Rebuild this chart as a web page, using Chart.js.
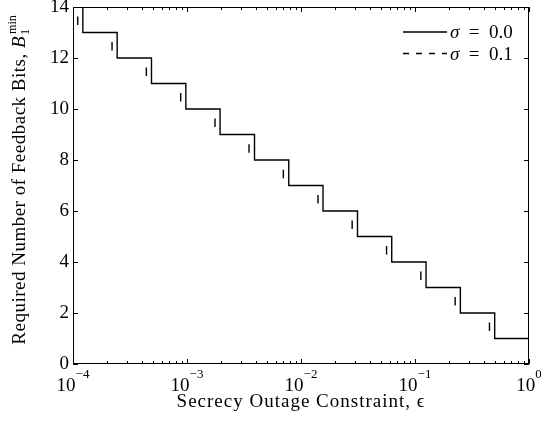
<!DOCTYPE html>
<html>
<head>
<meta charset="utf-8">
<script src="https://cdn.jsdelivr.net/npm/chart.js@4.4.1/dist/chart.umd.min.js"></script>
<style>
  html, body { margin: 0; padding: 0; background: #fff; }
</style>
</head>
<body>
<canvas id="bitsChart" width="541" height="421"></canvas>
<script>
// valores
const epsRange = [1e-4, 1];
const bitLevels = [14, 13, 12, 11, 10, 9, 8, 7, 6, 5, 4, 3, 2, 1];
const epsStepsSigma0 = [1.22e-4, 2.44e-4, 4.88e-4, 9.77e-4, 1.95e-3, 3.91e-3, 7.81e-3, 0.0156, 0.0313, 0.0625, 0.125, 0.25, 0.5];
const epsStepsSigma1 = [1.1e-4, 2.2e-4, 4.4e-4, 8.8e-4, 1.76e-3, 3.5e-3, 7.0e-3, 0.0141, 0.0281, 0.0563, 0.1125, 0.225, 0.45];
const xTickExponents = [-4, -3, -2, -1, 0];
const yTicks = [0, 2, 4, 6, 8, 10, 12, 14];
const seriesLabels = ['σ = 0.0', 'σ = 0.1'];
const xTitle = 'Secrecy Outage Constraint, ϵ';
const yTitle = 'Required Number of Feedback Bits, ';

const SERIF = '"Liberation Serif", "DejaVu Serif", serif';

// convierte los umbrales en puntos de una función escalón
function stepPoints(steps) {
    const pts = [{ x: epsRange[0], y: bitLevels[0] }];
    steps.forEach((e, i) => pts.push({ x: e, y: bitLevels[i + 1] }));
    pts.push({ x: epsRange[1], y: bitLevels[bitLevels.length - 1] });
    return pts;
}

// patrón de trazos: un solo trazo en medio de cada bajada
function dashGeometry(chart) {
    const xs = chart.scales.x, ys = chart.scales.y;
    if (!xs || !ys) return null;
    const h = xs.getPixelForValue(epsStepsSigma1[1]) - xs.getPixelForValue(epsStepsSigma1[0]);
    const v = ys.getPixelForValue(bitLevels[1]) - ys.getPixelForValue(bitLevels[0]);
    const lead = xs.getPixelForValue(epsStepsSigma1[0]) - xs.getPixelForValue(epsRange[0]);
    return { h, v, lead };
}

const framePlugin = {
    id: 'matlabFrame',
    afterDraw(chart) {
        const { ctx, chartArea: a } = chart;
        const xs = chart.scales.x, ys = chart.scales.y;
        ctx.save();
        ctx.strokeStyle = '#000';
        ctx.fillStyle = '#000';
        ctx.lineWidth = 1;
        ctx.strokeRect(a.left + 0.5, a.top + 0.5, a.right - a.left - 1, a.bottom - a.top - 1);

        // marcas hacia dentro
        ctx.beginPath();
        yTicks.forEach(v => {
            const py = Math.round(ys.getPixelForValue(v)) + 0.5;
            ctx.moveTo(a.left, py); ctx.lineTo(a.left + 5, py);
            ctx.moveTo(a.right, py); ctx.lineTo(a.right - 5, py);
        });
        xTickExponents.forEach((e, i) => {
            const px = Math.round(xs.getPixelForValue(Math.pow(10, e))) + 0.5;
            ctx.moveTo(px, a.bottom); ctx.lineTo(px, a.bottom - 5);
            ctx.moveTo(px, a.top); ctx.lineTo(px, a.top + 5);
            if (i < xTickExponents.length - 1) {
                for (let m = 2; m <= 9; m++) {
                    const mx = Math.round(xs.getPixelForValue(m * Math.pow(10, e))) + 0.5;
                    ctx.moveTo(mx, a.bottom); ctx.lineTo(mx, a.bottom - 3);
                    ctx.moveTo(mx, a.top); ctx.lineTo(mx, a.top + 3);
                }
            }
        });
        ctx.stroke();

        // etiquetas del eje x: 10 con exponente
        ctx.textBaseline = 'alphabetic';
        ctx.textAlign = 'left';
        xTickExponents.forEach(e => {
            const px = xs.getPixelForValue(Math.pow(10, e));
            const exp = e < 0 ? '\u2212' + Math.abs(e) : String(e);
            ctx.font = '19px ' + SERIF;
            const wb = ctx.measureText('10').width;
            ctx.font = '13px ' + SERIF;
            const we = ctx.measureText(exp).width;
            const x0 = px - (wb + we) / 2;
            ctx.font = '19px ' + SERIF;
            ctx.fillText('10', x0, a.bottom + 27);
            ctx.font = '13px ' + SERIF;
            ctx.fillText(exp, x0 + wb, a.bottom + 14);
        });

        // título del eje x
        ctx.font = '19px ' + SERIF;
        ctx.letterSpacing = '1px';
        ctx.textAlign = 'center';
        ctx.fillText(xTitle, (a.left + a.right) / 2, a.bottom + 43);

        // título del eje y con B_1^min
        ctx.save();
        ctx.translate(25, 180);
        ctx.rotate(-Math.PI / 2);
        ctx.textAlign = 'left';
        ctx.letterSpacing = '0.5px';
        ctx.font = '19px ' + SERIF;
        const wMain = ctx.measureText(yTitle).width;
        ctx.font = 'italic 19px ' + SERIF;
        const wB = ctx.measureText('B').width;
        ctx.letterSpacing = '0px';
        ctx.font = '12px ' + SERIF;
        const wSup = ctx.measureText('min').width;
        let x = -(wMain + wB + wSup + 2) / 2;
        ctx.letterSpacing = '0.5px';
        ctx.font = '19px ' + SERIF;
        ctx.fillText(yTitle, x, 0);
        x += wMain;
        ctx.font = 'italic 19px ' + SERIF;
        ctx.fillText('B', x, 0);
        x += wB + 1;
        ctx.letterSpacing = '0px';
        ctx.font = '12px ' + SERIF;
        ctx.fillText('1', x, 4);
        ctx.fillText('min', x + 1, -9);
        ctx.restore();
        ctx.letterSpacing = '0px';

        // leyenda
        chart.data.datasets.forEach((ds, i) => {
            const ly = a.top + 25 + i * 21.5;
            ctx.beginPath();
            ctx.lineWidth = 1.3;
            ctx.setLineDash(i === 0 ? [] : [6, 7]);
            ctx.moveTo(a.right - 126, ly);
            ctx.lineTo(a.right - 82, ly);
            ctx.stroke();
            ctx.setLineDash([]);
            const [sym, rest] = [ds.label.charAt(0), ds.label.slice(1)];
            ctx.textAlign = 'left';
            ctx.font = 'italic 19px ' + SERIF;
            ctx.fillText(sym, a.right - 79, ly + 6);
            const ws = ctx.measureText(sym).width;
            ctx.font = '19px ' + SERIF;
            ctx.fillText(rest.replace(' = ', '  =  '), a.right - 79 + ws, ly + 6);
        });
        ctx.restore();
    }
};

const ctx = document.getElementById('bitsChart').getContext('2d');
const chart = new Chart(ctx, {
    type: 'line',
    data: {
        datasets: [{
            label: seriesLabels[0],
            data: stepPoints(epsStepsSigma0),
            borderColor: '#000',
            borderWidth: 1.4,
            stepped: true,
            pointRadius: 0,
            fill: false
        }, {
            label: seriesLabels[1],
            data: stepPoints(epsStepsSigma1),
            borderColor: '#000',
            borderWidth: 1.4,
            stepped: true,
            pointRadius: 0,
            fill: false,
            borderDash: (c) => {
                const g = dashGeometry(c.chart);
                if (!g) return [6, 7];
                return [g.v / 3, g.h + g.v - g.v / 3];
            },
            borderDashOffset: (c) => {
                const g = dashGeometry(c.chart);
                if (!g) return 0;
                const period = g.h + g.v;
                const start = g.lead + g.v / 3 + 1;
                return period - (start % period);
            }
        }]
    },
    options: {
        responsive: false,
        animation: false,
        devicePixelRatio: 1,
        layout: { padding: { top: 7, right: 12, left: 0, bottom: 0 } },
        plugins: { legend: { display: false }, tooltip: { enabled: false } },
        scales: {
            x: {
                type: 'logarithmic',
                min: epsRange[0],
                max: epsRange[1],
                grid: { display: false, drawTicks: false },
                border: { display: false },
                ticks: { display: false },
                afterBuildTicks: (s) => { s.ticks = xTickExponents.map(e => ({ value: Math.pow(10, e) })); },
                afterFit: (s) => { s.height = 57; s.paddingLeft = 0; s.paddingRight = 0; }
            },
            y: {
                type: 'linear',
                min: 0,
                max: 14,
                grid: { display: false, drawTicks: false },
                border: { display: false },
                ticks: {
                    stepSize: 2,
                    color: '#000',
                    padding: 4,
                    font: { family: SERIF, size: 19 }
                },
                afterFit: (s) => { s.width = 73; s.paddingTop = 0; s.paddingBottom = 0; }
            }
        }
    },
    plugins: [framePlugin]
});
</script>
</body>
</html>
